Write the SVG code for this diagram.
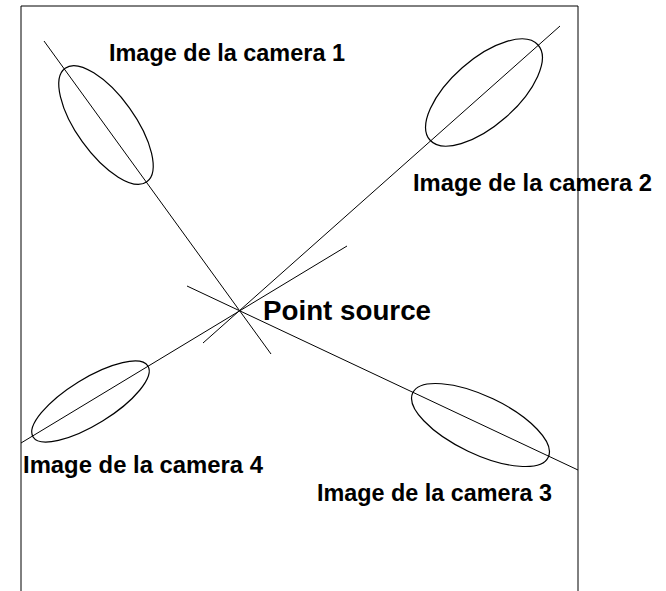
<svg xmlns="http://www.w3.org/2000/svg" width="666" height="591" viewBox="0 0 666 591">
<style>
.ln{stroke:#000;stroke-width:1;fill:none}
.el{stroke:#000;stroke-width:1.2;fill:none}
.lb{font-family:"Liberation Sans",Arial,sans-serif;font-weight:bold;font-size:23px;fill:#000}
</style>
<rect width="666" height="591" fill="#fff"/>
<path class="ln" d="M21,591 V6 H578 V591"/>
<g id="connectors">
<line class="ln" x1="44" y1="41" x2="271" y2="354"/>
<line class="ln" x1="560" y1="26" x2="203" y2="343"/>
<line class="ln" x1="187" y1="286" x2="578" y2="470"/>
<line class="ln" x1="21" y1="443" x2="347" y2="246"/>
</g>
<g id="camera1">
<ellipse class="el" cx="106" cy="125" rx="70" ry="29" transform="rotate(54.3 106 125)"/>
<text class="lb" x="109" y="61" textLength="236" lengthAdjust="spacingAndGlyphs">Image de la camera 1</text>
</g>
<g id="camera2">
<ellipse class="el" cx="484" cy="92.5" rx="72" ry="33" transform="rotate(-41.3 484 92.5)"/>
<text class="lb" x="413" y="191" textLength="239" lengthAdjust="spacingAndGlyphs">Image de la camera 2</text>
</g>
<g id="camera3">
<ellipse class="el" cx="480.5" cy="425" rx="75" ry="29" transform="rotate(25.4 480.5 425)"/>
<text class="lb" x="317" y="501" textLength="235" lengthAdjust="spacingAndGlyphs">Image de la camera 3</text>
</g>
<g id="camera4">
<ellipse class="el" cx="90.5" cy="401.5" rx="67.5" ry="23" transform="rotate(-31.7 90.5 401.5)"/>
<text class="lb" x="23" y="473" textLength="240" lengthAdjust="spacingAndGlyphs">Image de la camera 4</text>
</g>
<g id="point-source">
<text class="lb" x="263" y="320" style="font-size:27px" textLength="168" lengthAdjust="spacingAndGlyphs">Point source</text>
</g>
</svg>
